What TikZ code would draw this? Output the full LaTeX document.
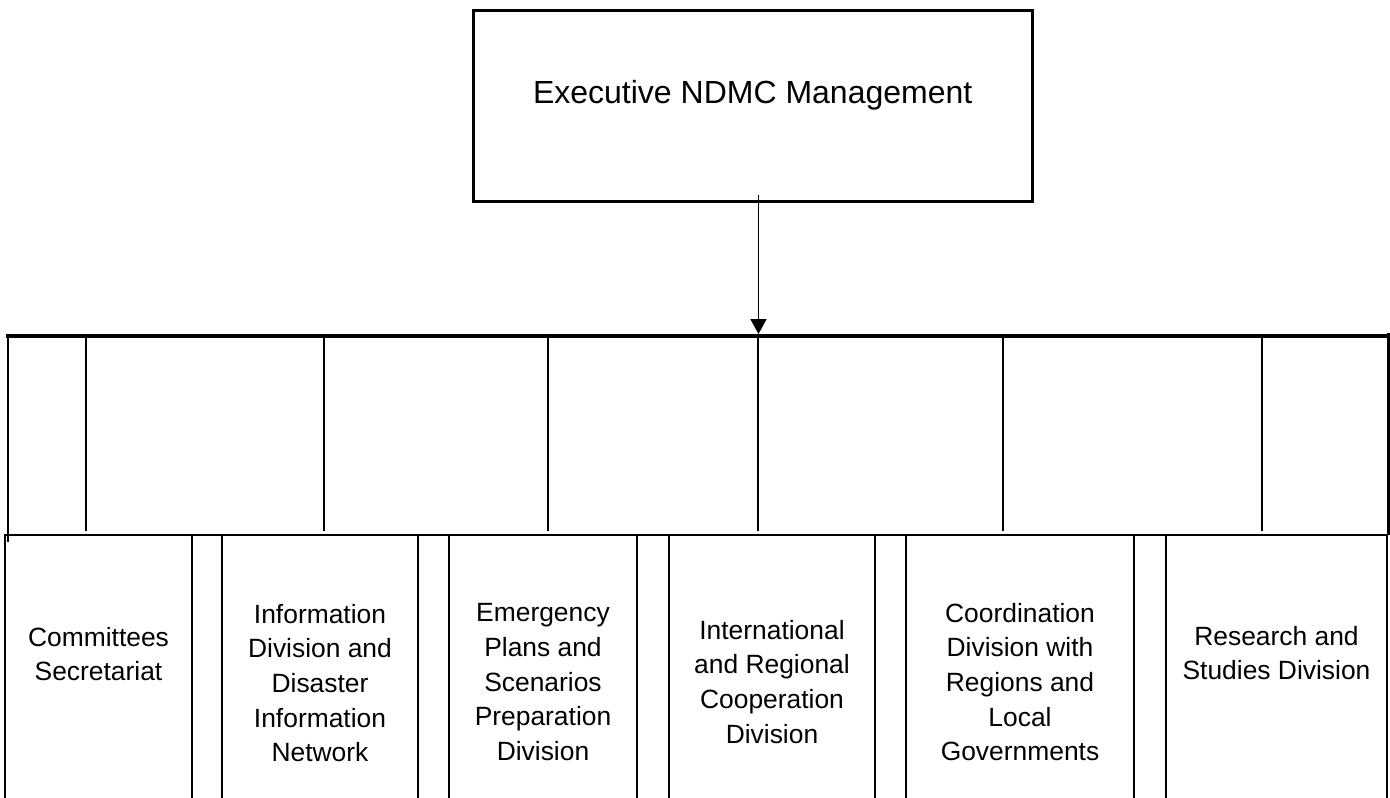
\documentclass[tikz,border=0pt]{standalone}
\usepackage{fontspec}
\setmainfont{Liberation Sans}
\usetikzlibrary{arrows.meta}
\begin{document}
\begin{tikzpicture}[x=1pt,y=-1pt,
  execbox/.style={draw, line width=2.6pt, outer sep=0pt, inner sep=0pt,
    minimum width=559pt, minimum height=191pt,
    font=\fontsize{32}{38}\selectfont, text height=23pt, text depth=29pt},
  divbox/.style={draw, line width=2.3pt, outer sep=0pt, inner sep=0pt,
    anchor=north west, minimum height=300pt},
  divtext/.style={anchor=north, align=center, inner sep=0pt,
    font=\fontsize{26.4}{34.6}\selectfont},
  barline/.style={line width=4pt},
  tickline/.style={line width=2.6pt},
  hline/.style={line width=2.3pt},
  conn/.style={line width=1.8pt, -{Triangle[width=16pt,length=15pt]}},
]
\useasboundingbox (0,0) rectangle (1390,798);
\clip (0,0) rectangle (1390,798);

% top box
\node[execbox] (exec) at (752.7,106) {Executive NDMC Management};

% arrow to bar
\coordinate (astart) at (758.5,195);
\coordinate (aend) at (758.5,334);
\draw[conn] (astart) -- (aend);

% thick bar
\coordinate (barL) at (6,335.5);
\coordinate (barR) at (1389.5,335.5);
\draw[barline] (barL) -- (barR);

% vertical ticks below bar
\draw[tickline] (8,337) -- (8,542);
\foreach \x in {86,324,548,758,1003,1262}
  \draw[tickline] (\x,338) -- (\x,531);
\draw[line width=3.2pt] (1388.5,333) -- (1388.5,535);

% bottom horizontal line
\draw[hline] (5,535) -- (1388,535);

% division boxes
\node[divbox, minimum width=187pt] (b1) at (5,535) {};
\node[divbox, minimum width=196pt] (b2) at (222,535) {};
\node[divbox, minimum width=188pt] (b3) at (449,535) {};
\node[divbox, minimum width=206pt] (b4) at (669,535) {};
\node[divbox, minimum width=228pt] (b5) at (906,535) {};
\node[divbox, minimum width=221pt] (b6) at (1166,535) {};

% division texts
\node[divtext] (t1) at (98.5,627) {Committees\\Secretariat};
\node[divtext] (t2) at (320,604) {Information\\Division and\\Disaster\\Information\\Network};
\node[divtext] (t3) at (543,603.5) {Emergency\\Plans and\\Scenarios\\Preparation\\Division};
\node[divtext] (t4) at (772,620) {International\\and Regional\\Cooperation\\Division};
\node[divtext] (t5) at (1020,603) {Coordination\\Division with\\Regions and\\Local\\Governments};
\node[divtext] (t6) at (1276.5,626) {Research and\\Studies Division};
\end{tikzpicture}
\end{document}
